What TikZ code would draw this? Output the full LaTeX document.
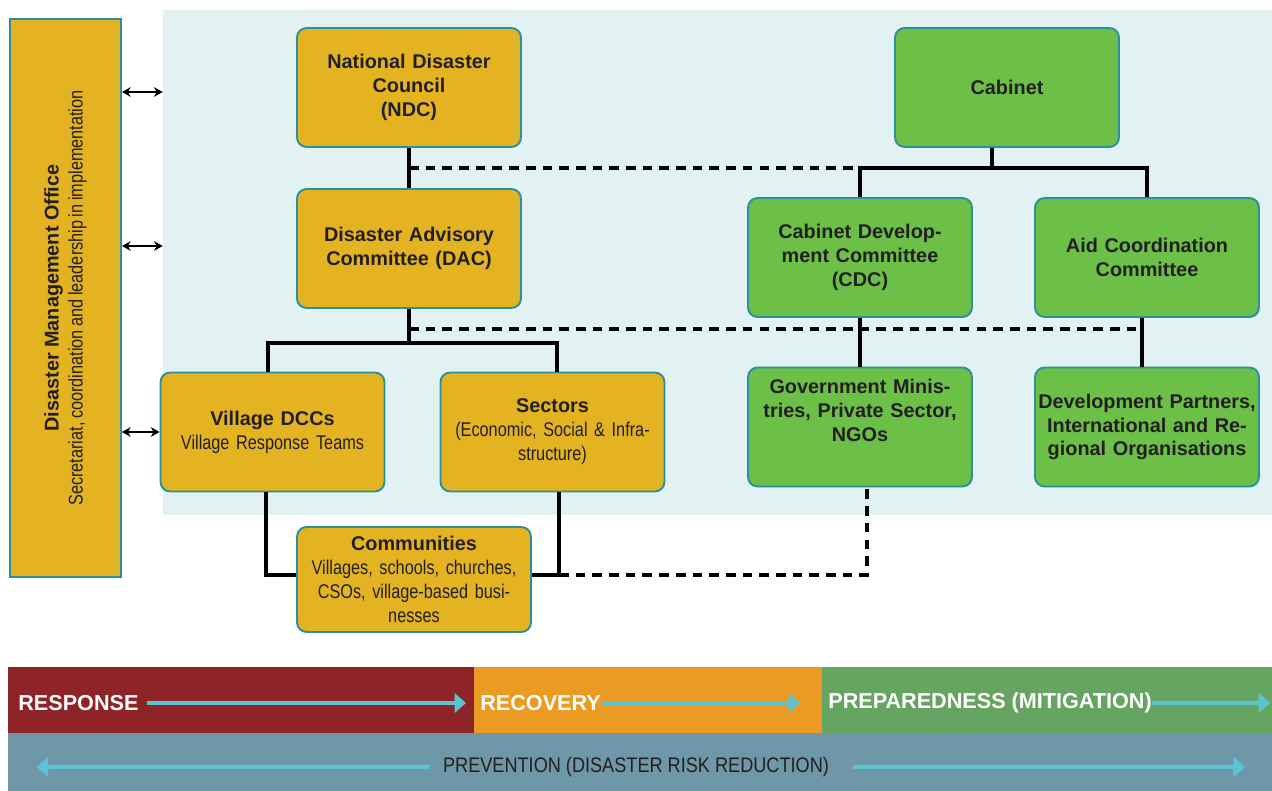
\documentclass[tikz,border=0pt]{standalone}
\usepackage{fontspec}
\setmainfont{Liberation Sans}
\newfontfamily\narrowsf[FakeStretch=0.82,WordSpace=0.8]{Liberation Sans}
\usepackage{xcolor}
\usepackage{tikz}
\usetikzlibrary{arrows.meta}
\definecolor{dmInk}{HTML}{231F20}
\definecolor{dmGold}{HTML}{E3B322}
\definecolor{dmGreen}{HTML}{6CBF47}
\definecolor{dmEdge}{HTML}{2B8F9E}
\definecolor{dmPanel}{HTML}{E2F1F2}
\definecolor{dmRed}{HTML}{8E2427}
\definecolor{dmOrange}{HTML}{EB9A22}
\definecolor{dmLeaf}{HTML}{66A462}
\definecolor{dmSlate}{HTML}{6E98A8}
\definecolor{dmCyan}{HTML}{5BC4D2}
\newcommand{\subtxt}[1]{{\mdseries\narrowsf #1}}
\tikzset{
  gobox/.style={rectangle,rounded corners=5.5pt,
    minimum width=4.48cm,minimum height=2.38cm,text width=4.4cm,
    inner sep=0pt,align=center,draw=dmEdge,line width=1.1pt,fill=dmGold,
    font=\fontsize{11.3}{13.6}\selectfont\bfseries,text=dmInk},
  grbox/.style={gobox,fill=dmGreen},
  conn/.style={line width=2pt,draw=black},
  connd/.style={conn,dash pattern=on 5.5pt off 4pt},
  lnk/.style={{Stealth[length=5pt,width=5.5pt]}-{Stealth[length=5pt,width=5.5pt]},
    line width=0.7pt,draw=black},
  flow/.style={-{Triangle[length=6.5pt,width=11pt]},line width=2.3pt,draw=dmCyan},
  band/.style={rectangle,inner sep=0pt,outer sep=0pt,anchor=north west},
  phase/.style={font=\fontsize{12.3}{14}\selectfont\bfseries,text=white,
    inner sep=0pt,anchor=west},
}
\begin{document}
\begin{tikzpicture}[x=0.02cm,y=-0.02cm]
  \useasboundingbox (0,0) rectangle (1272,791);

  % shaded area behind the councils
  \node[rectangle,fill=dmPanel,inner sep=0pt,minimum width=22.18cm,
    minimum height=10.1cm] (panel) at (717.5,262.5) {};

  % office on the left
  \node[rectangle,rotate=90,draw=dmEdge,line width=1.1pt,fill=dmGold,
    minimum width=11.16cm,minimum height=2.22cm,inner sep=0pt,align=center,
    font=\fontsize{11.3}{13.6}\selectfont\bfseries,text=dmInk] (dmo) at (65.5,298)
    {Disaster Management Office\\
     \subtxt{Secretariat, coordination and leadership in implementation}};

  % disaster councils
  \node[gobox] (ndc) at (409,87.5) {National Disaster\\Council\\(NDC)};
  \node[gobox] (dac) at (409,248.5) {Disaster Advisory\\Committee (DAC)};
  \node[gobox] (vdcc) at (272.5,432)
    {Village DCCs\\\subtxt{Village Response Teams}};
  \node[gobox] (sect) at (552.5,432)
    {Sectors\\\subtxt{(Economic, Social \& Infra-\\structure)}};
  \node[gobox,minimum width=4.68cm,minimum height=2.1cm] (comm) at (414,579.5)
    {Communities\\\subtxt{Villages, schools, churches,\\CSOs, village-based busi-\\nesses}};

  % government side
  \node[grbox] (cab) at (1007,87.5) {Cabinet};
  \node[grbox] (cdc) at (860,257.5) {Cabinet Develop-\\ment Committee\\(CDC)};
  \node[grbox] (acc) at (1147,257.5) {Aid Coordination\\Committee};
  \node[grbox] (gov) at (860,427)
    {Government Minis-\\tries, Private Sector,\\NGOs\\[5pt]\mbox{}};
  \node[grbox] (dev) at (1147,427)
    {Development Partners,\\International and Re-\\gional Organisations};

  % links from the office
  \draw[lnk] (dmo.south |- 0,92) -- (panel.west |- 0,92);
  \draw[lnk] (dmo.south |- 0,246) -- (panel.west |- 0,246);
  \draw[lnk] (dmo.south |- vdcc.west) -- (vdcc.west);

  % reporting lines
  \coordinate (ndcj) at (409,168);
  \coordinate (cabj) at (992,168);
  \coordinate (dacj) at (409,343);
  \coordinate (dacd) at (409,329);
  \coordinate (accl) at (1142,329);
  \coordinate (vdccl) at (268,343);
  \coordinate (sectl) at (557,343);
  \coordinate (vdccb) at (266,575);
  \coordinate (sectb) at (559,575);
  \coordinate (govb) at (867,575);
  \draw[conn] (ndc) -- (dac);
  \draw[conn] (cab.south -| cabj) -- (cabj);
  \draw[conn] (cdc.north) |- (cabj) -| (acc.north);
  \draw[connd] (ndcj) -- (cdc.north |- ndcj);
  \draw[conn] (dac.south) -- (dacj);
  \draw[conn] (vdcc.north -| vdccl) -- (vdccl) -- (sectl) -- (sect.north -| sectl);
  \draw[conn] (cdc) -- (gov);
  \draw[conn] (acc.south -| accl) -- (dev.north -| accl);
  \draw[connd] (dacd) -- (accl);
  \draw[conn] (vdcc.south -| vdccb) -- (vdccb) -- (comm.west |- vdccb);
  \draw[conn] (sect.south -| sectb) -- (sectb) -- (comm.east |- sectb);
  \draw[connd] (sectb) -- (govb) -- (gov.south -| govb);

  % phases along the bottom
  \node[band,fill=dmRed,minimum width=9.32cm,minimum height=1.32cm] (resp) at (8,667) {};
  \node[band,fill=dmOrange,minimum width=6.96cm,minimum height=1.32cm] (recov) at (474,667) {};
  \node[band,fill=dmLeaf,minimum width=9.0cm,minimum height=1.32cm] (prep) at (822,667) {};
  \node[band,fill=dmSlate,minimum width=25.28cm,minimum height=1.16cm] (prev) at (8,733) {};

  \node[phase] (respt) at (18,703) {RESPONSE};
  \node[phase] (recovt) at (480,703) {RECOVERY};
  \node[phase] (prept) at (828,703) {PREPAREDNESS (MITIGATION)};
  \node[inner sep=0pt,text=dmInk,
    font=\fontsize{12}{14}\selectfont\addfontfeatures{FakeStretch=0.86}] (prevt) at (636,767)
    {PREVENTION (DISASTER RISK REDUCTION)};

  \draw[flow,shorten <=4.5pt,shorten >=4.5pt] (respt.east) -- (respt.east -| resp.east);
  \draw[flow,shorten >=12.5pt] (recovt.east) -- (recovt.east -| recov.east);
  \draw[flow,shorten >=1pt] (prept.east) -- (prept.east -| prep.east);
  \draw[flow,shorten <=7.4pt,shorten >=16.4pt] (prevt.west) -- (prevt.west -| prev.west);
  \draw[flow,shorten <=13.6pt,shorten >=15.3pt] (prevt.east) -- (prevt.east -| prev.east);
\end{tikzpicture}
\end{document}
